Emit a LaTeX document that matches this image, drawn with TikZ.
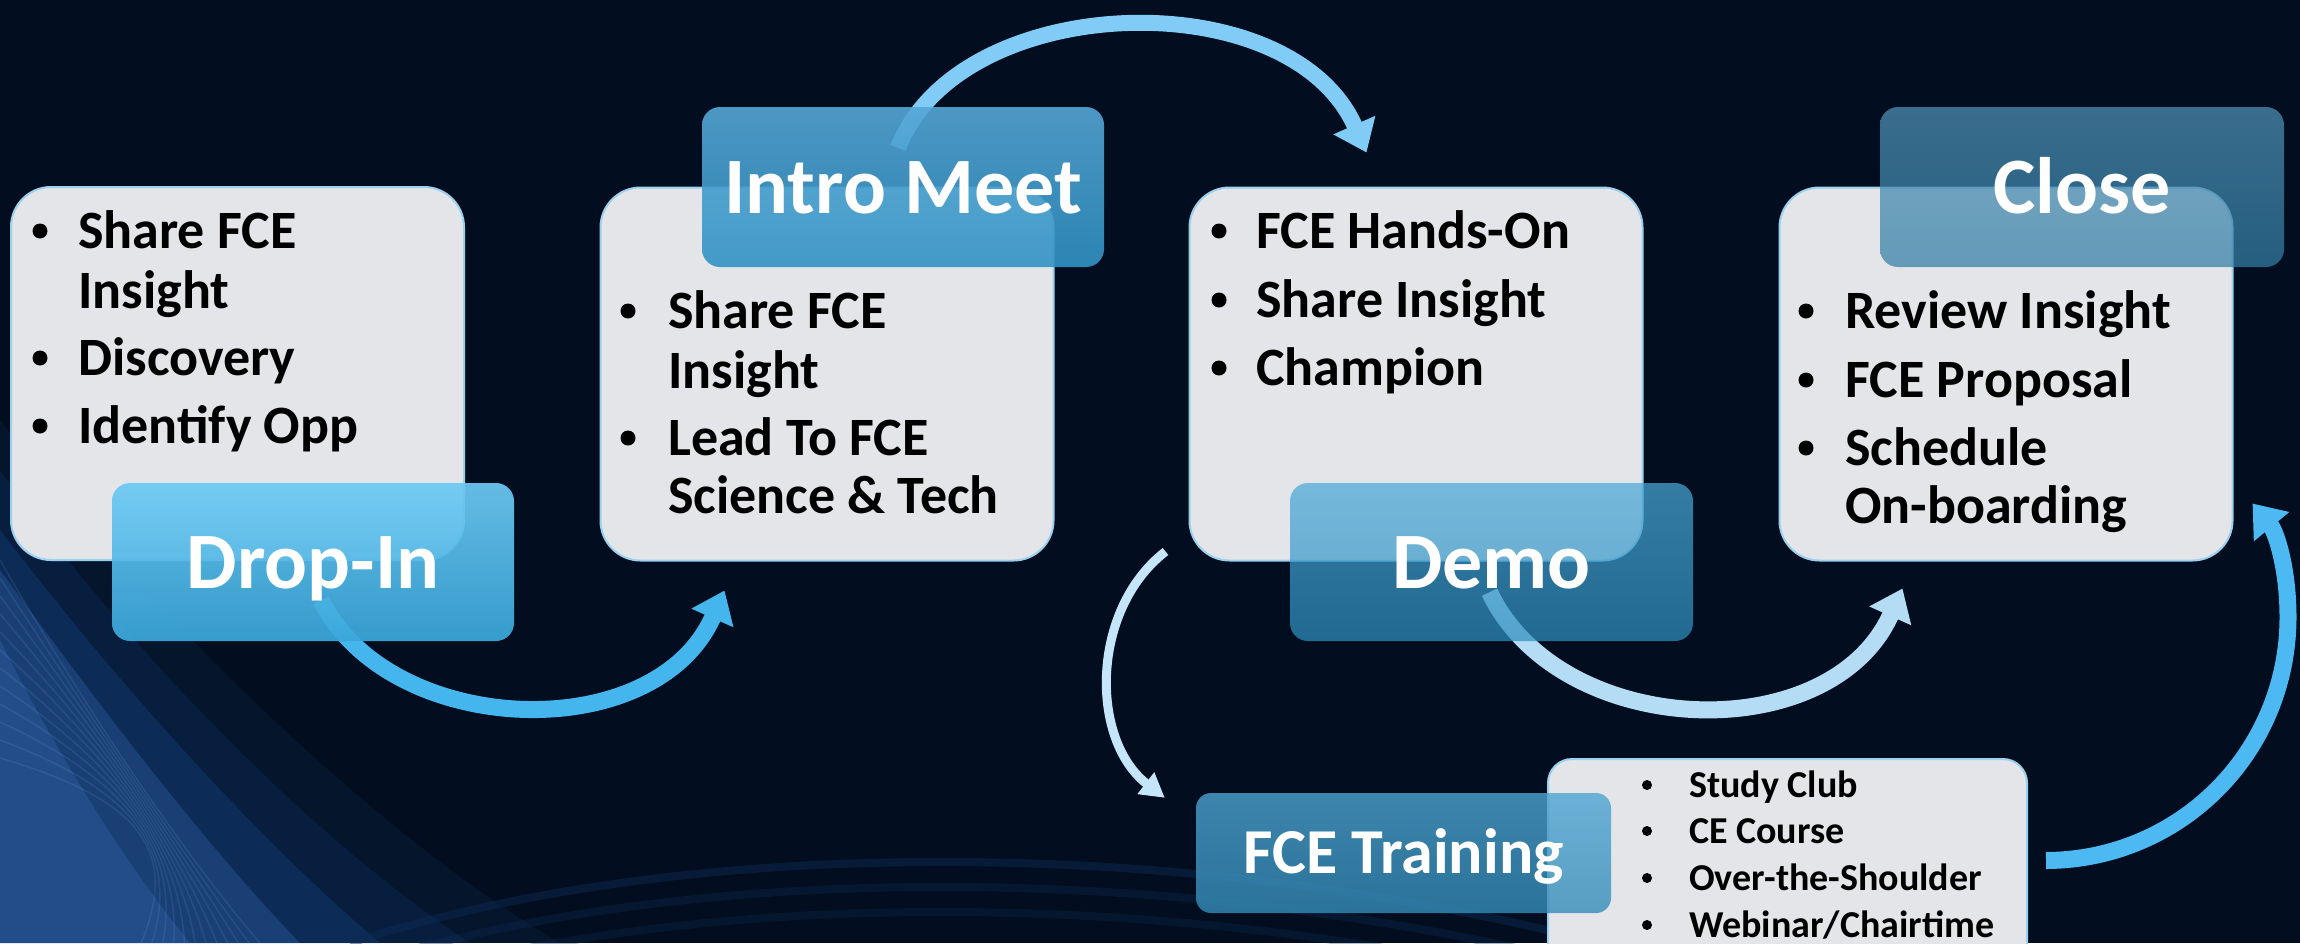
\documentclass[tikz,border=0pt]{standalone}
\usepackage{fontspec}
\setmainfont{Carlito}
\usetikzlibrary{arrows.meta,calc}
\definecolor{bg}{HTML}{020E1F}
\definecolor{cardgray}{HTML}{E4E5E8}
\definecolor{cardedge}{HTML}{9BD0EE}
\definecolor{dropT}{HTML}{6CC9F3}
\definecolor{dropB}{HTML}{3AA7DA}
\definecolor{introT}{HTML}{55A6D6}
\definecolor{introB}{HTML}{3193C4}
\definecolor{demoT}{HTML}{4AA8D8}
\definecolor{demoB}{HTML}{2E8EBE}
\definecolor{closeT}{HTML}{5092B9}
\definecolor{closeB}{HTML}{337EA5}
\definecolor{trT}{HTML}{4EA4D2}
\definecolor{trB}{HTML}{348CB8}
\definecolor{arA}{HTML}{45B5EE}
\definecolor{arB}{HTML}{80CCF6}
\definecolor{arC}{HTML}{B5DCF5}
\definecolor{arD}{HTML}{C5E5FA}
\definecolor{arE}{HTML}{4DB9F2}
\definecolor{glowA}{HTML}{1A4A90}
\definecolor{glowB}{HTML}{3A6EBB}
\definecolor{streak}{HTML}{7AA6E6}
\definecolor{wave}{HTML}{0F2A55}
\pgfdeclarelayer{back}
\pgfdeclarelayer{mid}
\pgfsetlayers{back,mid,main}
\begin{document}
\begin{tikzpicture}[x=1pt,y=-1pt,
  card/.style={draw=cardedge,line width=2pt,fill=cardgray,rounded corners=40pt,inner sep=0pt,minimum width=453pt,minimum height=373pt},
  ttl/.style={rounded corners=18pt,inner sep=0pt,text=white,text opacity=1,font=\fontsize{80}{80}\selectfont\bfseries,text height=52pt,text depth=0pt,minimum width=402pt,minimum height=158pt},
  li/.style={anchor=base west,inner sep=0pt,text=black,font=\fontsize{54}{60}\selectfont\bfseries},
  dot/.style={circle,fill=black,inner sep=0pt,minimum size=15pt},
  sli/.style={anchor=base west,inner sep=0pt,text=black,font=\fontsize{38}{44}\selectfont\bfseries},
  sdot/.style={circle,fill=black,inner sep=0pt,minimum size=10pt},
  flow/.style={line width=17pt,-{Triangle[length=30pt,width=44pt]}},
]
\useasboundingbox (0,0) rectangle (2300,943);

\begin{pgfonlayer}{back}
\fill[bg] (0,0) rectangle (2300,943);
% glow in the lower left corner
\fill[glowA,opacity=0.12] (0,420) .. controls (180,650) and (400,850) .. (560,943) -- (0,943) -- cycle;
\fill[glowA,opacity=0.18] (0,470) .. controls (150,680) and (330,850) .. (470,943) -- (0,943) -- cycle;
\fill[glowA,opacity=0.3] (0,530) .. controls (130,700) and (270,850) .. (380,943) -- (0,943) -- cycle;
\fill[glowB,opacity=0.3] (0,570) .. controls (110,720) and (210,850) .. (300,943) -- (0,943) -- cycle;
\fill[glowB,opacity=0.3] (0,640) .. controls (60,760) and (130,870) .. (190,943) -- (0,943) -- cycle;
\foreach \s in {0,18,...,200}{
  \draw[streak,opacity=0.15,line width=1.5pt] (0,560+\s) .. controls (80+\s*0.3,700+\s*0.5) and (180,850) .. (260-\s*0.6,943);
}
% faint waves at the bottom
\foreach \s/\o in {0/0.45,25/0.35,50/0.3}{
  \draw[wave,opacity=\o,line width=8pt] (350,943+\s) .. controls (700,830+\s) and (1200,840+\s) .. (1600,943+\s);
}
% cards
\node[card] (card1) at (237.5,373.5) {};
\node[card] (card2) at (827,374) {};
\node[card] (card3) at (1416,374) {};
\node[card] (card4) at (2006,374) {};
\node[card,rounded corners=24pt,minimum width=479pt,minimum height=231pt] (fcelist) at (1787.5,874.5) {};
\end{pgfonlayer}

% titles
\node[ttl,top color=dropT,bottom color=dropB,fill opacity=0.93] (dropin) at (313,562) {Drop-In};
\node[ttl,top color=introT,bottom color=introB,fill opacity=0.9,minimum height=160pt] (intro) at (903,187) {Intro Meet};
\node[ttl,top color=demoT,bottom color=demoB,fill opacity=0.72,minimum width=403pt] (demo) at (1491.5,562) {Demo};
\node[ttl,top color=closeT,bottom color=closeB,fill opacity=0.72,minimum width=404pt,minimum height=160pt] (close) at (2082,187) {Close};
\node[ttl,top color=trT,bottom color=trB,fill opacity=0.8,minimum width=415pt,minimum height=120pt,rounded corners=15pt,font=\fontsize{64}{64}\selectfont\bfseries,text height=41pt] (train) at (1403.5,853) {FCE Training};

% connectors
\begin{pgfonlayer}{mid}
\draw[flow,arA] ($(dropin.south)+(8,-41)$) .. controls (390,738) and (655,748) .. ($(card2.south west)+(125,29)$);
\draw[flow,arB,line width=16pt] ($(intro.north)+(-5,41)$) .. controls (960,-10) and (1290,-20) .. ($(card3.north west)+(178,-34)$);
\draw[flow,arC] ($(demo.south)+(-2,-49)$) .. controls (1560,740) and (1830,750) .. ($(card4.south west)+(124,27)$);
\draw[arD,line width=9pt,-{Triangle[length=24pt,width=26pt]}] ($(card3.south west)+(-23,-10)$) .. controls (1090,610) and (1090,740) .. ($(train.north west)+(-31,5)$);
\draw[flow,arE] ($(fcelist.east)+(18,-14)$) .. controls (2180,860) and (2288,752) .. (2288,617) .. controls (2288,568) and (2276,532) .. ($(card4.south east)+(19,-58)$);
\end{pgfonlayer}

% card 1 text
\node[dot] (c1b1) at (40,231) {};
\node[li] (c1t1) at (78,248) {Share FCE};
\node[li] (c1t2) at (78,308) {Insight};
\node[dot] (c1b2) at (40,358) {};
\node[li] (c1t3) at (78,375) {Discovery};
\node[dot] (c1b3) at (40,426) {};
\node[li] (c1t4) at (78,443) {Identify Opp};
% card 2 text
\node[dot] (c2b1) at (628,311) {};
\node[li] (c2t1) at (668,328) {Share FCE};
\node[li] (c2t2) at (668,388) {Insight};
\node[dot] (c2b2) at (628,438) {};
\node[li] (c2t3) at (668,455) {Lead To FCE};
\node[li] (c2t4) at (668,513) {Science \& Tech};
% card 3 text
\node[dot] (c3b1) at (1219,231) {};
\node[li] (c3t1) at (1256,248) {FCE Hands-On};
\node[dot] (c3b2) at (1219,300) {};
\node[li] (c3t2) at (1256,317) {Share Insight};
\node[dot] (c3b3) at (1219,368) {};
\node[li] (c3t3) at (1256,385) {Champion};
% card 4 text
\node[dot] (c4b1) at (1806,311) {};
\node[li] (c4t1) at (1845,328) {Review Insight};
\node[dot] (c4b2) at (1806,380) {};
\node[li] (c4t2) at (1845,397) {FCE Proposal};
\node[dot] (c4b3) at (1806,448) {};
\node[li] (c4t3) at (1845,465) {Schedule};
\node[li] (c4t4) at (1845,523) {On-boarding};
% training list
\node[sdot] (l1b) at (1647,785) {};
\node[sli] (l1t) at (1689,797) {Study Club};
\node[sdot] (l2b) at (1647,831) {};
\node[sli] (l2t) at (1689,843) {CE Course};
\node[sdot] (l3b) at (1647,878) {};
\node[sli] (l3t) at (1689,890) {Over-the-Shoulder};
\node[sdot] (l4b) at (1647,925) {};
\node[sli] (l4t) at (1689,937) {Webinar/Chairtime};
\end{tikzpicture}
\end{document}
